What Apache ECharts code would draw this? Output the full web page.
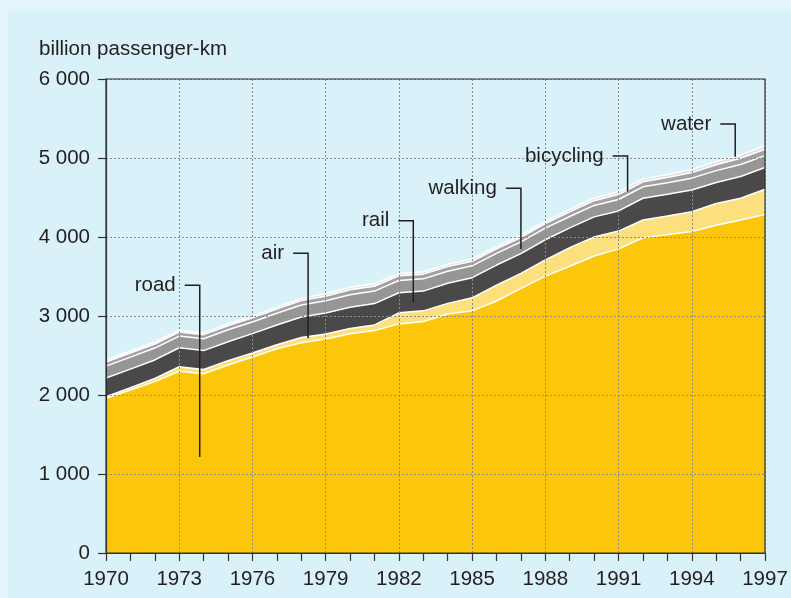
<!DOCTYPE html>
<html>
<head>
<meta charset="utf-8">
<script src="https://cdn.jsdelivr.net/npm/echarts@6/dist/echarts.min.js"></script>
<style>
  html, body { margin: 0; padding: 0; background: #e3f5fb; }
  #panel { position: absolute; left: 8px; top: 9px; width: 783px; height: 589px; background: #d9f1f9; }
  #chart { position: absolute; left: 0; top: 0; width: 791px; height: 598px; }
</style>
</head>
<body>
<div id="panel"></div>
<div id="chart"></div>
<script>
// Passenger transport by mode, billion passenger-km
const years = ['1970','1971','1972','1973','1974','1975','1976','1977','1978','1979',
               '1980','1981','1982','1983','1984','1985','1986','1987','1988','1989',
               '1990','1991','1992','1993','1994','1995','1996','1997'];

const road      = [1958, 2063, 2169, 2300, 2270, 2380, 2480, 2585, 2660, 2710,
                   2775, 2815, 2900, 2930, 3025, 3065, 3190, 3350, 3505, 3630,
                   3760, 3850, 3990, 4030, 4070, 4150, 4215, 4285];
const air       = [22, 30, 40, 58, 52, 55, 52, 52, 68, 63,
                   66, 72, 140, 135, 135, 165, 200, 190, 205, 235,
                   240, 225, 225, 235, 250, 275, 275, 320];
const rail      = [235, 235, 235, 240, 240, 240, 245, 250, 260, 265,
                   270, 270, 255, 250, 255, 255, 255, 250, 255, 250,
                   255, 255, 275, 275, 275, 265, 275, 275];
const walking   = [150, 152, 150, 148, 150, 150, 148, 148, 152, 155,
                   158, 158, 155, 155, 152, 150, 148, 148, 148, 145,
                   145, 145, 145, 148, 150, 150, 152, 150];
const bicycling = [52, 52, 52, 50, 52, 52, 52, 52, 55, 58,
                   62, 62, 58, 60, 58, 58, 56, 56, 58, 58,
                   60, 62, 64, 66, 70, 74, 78, 80];
const water     = [25, 25, 25, 25, 25, 25, 25, 25, 28, 30,
                   32, 32, 30, 30, 30, 30, 30, 30, 30, 32,
                   32, 35, 36, 38, 40, 42, 44, 45];

// Callout labels: year position of the leader, value where the leader ends, value of the elbow
const calloutNames  = ['road', 'air', 'rail', 'walking', 'bicycling', 'water'];
const calloutYears  = [1973.84, 1978.28, 1982.59, 1987.0, 1991.37, 1995.78];
const calloutTips   = [1215, 2717, 3173, 3848, 4576, 5016];
const calloutElbows = [3390, 3793, 4206, 4616, 5025, 5430];

const Y_MAX = 6000;
const GRID = { left: 106, top: 79, width: 659, height: 474 };
const FONT = "'Liberation Sans', Arial, Helvetica, sans-serif";
const FONT_SIZE = 20.5;
const INK = '#231f20';

const layers = [
  { name: 'road',      data: road,      color: '#fcc70a' },
  { name: 'air',       data: air,       color: '#fde07e' },
  { name: 'rail',      data: rail,      color: '#4a4849' },
  { name: 'walking',   data: walking,   color: '#979596' },
  { name: 'bicycling', data: bicycling, color: '#a3a1a2' },
  { name: 'water',     data: water,     color: '#e0e0e0' }
];

function toPx(year, value) {
  const x = GRID.left + (year - 1970) / (years.length - 1) * GRID.width;
  const y = GRID.top + (1 - value / Y_MAX) * GRID.height;
  return [x, y];
}

const graphics = [];
graphics.push({
  type: 'text', left: 39, top: 39, z: 10,
  style: { text: 'billion passenger-km', fill: INK, font: FONT_SIZE + 'px ' + FONT }
});
// frame of the plotting area
graphics.push({
  type: 'rect', z: 50, silent: true,
  shape: { x: GRID.left, y: GRID.top, width: GRID.width, height: GRID.height },
  style: { fill: null, stroke: '#333', lineWidth: 1.2 }
});
calloutNames.forEach((name, i) => {
  const tip = toPx(calloutYears[i], calloutTips[i]);
  const elbow = toPx(calloutYears[i], calloutElbows[i]);
  graphics.push({
    type: 'polyline', z: 60, silent: true,
    shape: { points: [[elbow[0] - 15, elbow[1]], elbow, tip] },
    style: { stroke: INK, lineWidth: 1.5, fill: null }
  });
  graphics.push({
    type: 'text', z: 60, silent: true,
    x: elbow[0] - 24, y: elbow[1],
    style: { text: name, fill: INK, font: FONT_SIZE + 'px ' + FONT, align: 'right', verticalAlign: 'middle' }
  });
});

const chart = echarts.init(document.getElementById('chart'), null, { renderer: 'canvas' });
chart.setOption({
  animation: false,
  backgroundColor: 'transparent',
  grid: { left: GRID.left, top: GRID.top, width: GRID.width, height: GRID.height, show: false },
  xAxis: {
    type: 'category',
    data: years,
    boundaryGap: false,
    z: 5,
    axisLine: { lineStyle: { color: '#333', width: 1.2 } },
    axisTick: { show: true, interval: 0, length: 8, lineStyle: { color: '#333', width: 1.2 } },
    axisLabel: { interval: 2, color: INK, fontSize: FONT_SIZE, fontFamily: FONT, margin: 16 },
    splitLine: { show: true, interval: 2, lineStyle: { color: '#8c8c8c', type: [2, 2], width: 1 } }
  },
  yAxis: {
    type: 'value',
    min: 0, max: Y_MAX, interval: 1000,
    z: 5,
    axisLine: { show: true, lineStyle: { color: '#333', width: 1.2 } },
    axisTick: { show: true, length: 8, lineStyle: { color: '#333', width: 1.2 } },
    axisLabel: {
      color: INK, fontSize: FONT_SIZE, fontFamily: FONT, margin: 16,
      formatter: v => { const s = String(v); return s.length > 3 ? s.slice(0, -3) + ' ' + s.slice(-3) : s; }
    },
    splitLine: { show: true, lineStyle: { color: '#8c8c8c', type: [2, 2], width: 1 } }
  },
  series: layers.map(l => ({
    name: l.name,
    type: 'line',
    stack: 'total',
    data: l.data,
    symbol: 'none',
    z: 1,
    lineStyle: { color: '#ffffff', width: 1.5 },
    areaStyle: { color: l.color, opacity: 1 },
    emphasis: { disabled: true }
  })),
  graphic: graphics
});
</script>
</body>
</html>
